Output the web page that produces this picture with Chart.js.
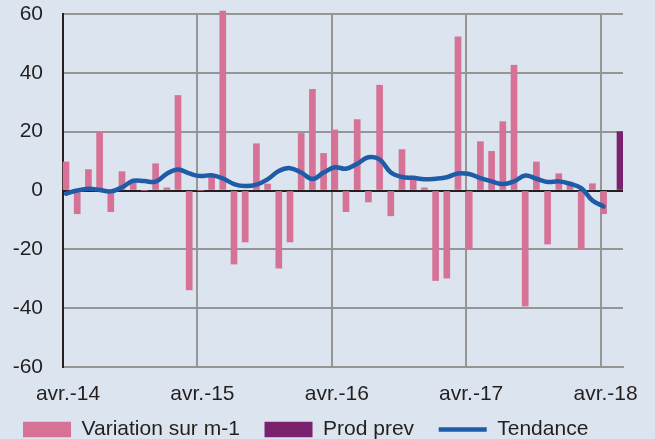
<!DOCTYPE html>
<html>
<head>
<meta charset="utf-8">
<script src="https://cdn.jsdelivr.net/npm/chart.js@4"></script>
<style>
  html, body { margin: 0; padding: 0; background: #dbe4ef; }
  #graphique { display: block; }
</style>
</head>
<body>
<canvas id="graphique" width="655" height="439"></canvas>
<script>
// mois 0 = avr.-14 ... mois 50 = juin-18
const etiquettesX = ["avr.-14", "avr.-15", "avr.-16", "avr.-17", "avr.-18"];

const variation = [
  9.7, -7.9, 7.1, 20.0, -7.2, 6.4, 3.0, 0, 9.1, 0.9, 32.3, -33.8,
  0, 4.6, 61, -25.0, -17.5, 15.9, 2.2, -26.4, -17.5, 19.4, 34.4, 12.6,
  20.6, -7.2, 24.1, -3.9, 35.8, -8.6, 13.9, 4.0, 0.9, -30.6, -29.8, 52.2,
  -19.7, 16.6, 13.3, 23.4, 42.6, -39.3, 9.7, -18.2, 5.7, 2.3, -19.7, 2.3,
  -7.9
];

const moisProdPrev = [50];
const prodPrev = [20];

const tendance = [
  -1.1, 0.0, 0.6, 0.2, -0.3, 1.1, 3.3, 3.2, 3.0, 5.7, 7.1, 5.8,
  4.9, 5.2, 4.1, 2.2, 1.5, 2.0, 3.8, 6.6, 7.6, 6.1, 3.9, 6.1,
  7.9, 7.4, 9.1, 11.3, 10.6, 6.1, 4.6, 4.3, 3.8, 4.0, 4.5, 5.8,
  5.6, 4.2, 3.1, 2.2, 3.1, 5.1, 4.0, 2.9, 3.1, 2.3, 0.8, -3.4,
  -5.4
];

const police = { family: "'Liberation Sans', Arial, sans-serif", size: 21 };
const gris = "#969696";
const noir = "#231f20";
// decalage des series (comme les colonnes groupees d'Excel), en mois
const decal = 0.268;

new Chart(document.getElementById("graphique"), {
  type: "bar",
  data: {
    datasets: [
      {
        label: "Variation sur m-1",
        data: variation.map((v, i) => ({ x: i, y: v })),
        xAxisID: "xDroite",
        backgroundColor: "#d67296",
        barThickness: 6,
        grouped: false,
        pointStyle: "rect",
        clip: false,
        order: 2
      },
      {
        label: "Prod prev",
        data: prodPrev.map((v, i) => ({ x: moisProdPrev[i], y: v })),
        xAxisID: "xGauche",
        backgroundColor: "#7b226f",
        barThickness: 6,
        grouped: false,
        pointStyle: "rect",
        order: 1
      },
      {
        type: "line",
        label: "Tendance",
        data: tendance.map((v, i) => ({ x: i, y: v })),
        xAxisID: "xDroite",
        borderColor: "#1f5ca8",
        backgroundColor: "#1f5ca8",
        borderWidth: 4.5,
        borderCapStyle: "round",
        pointRadius: 0,
        pointStyle: "line",
        tension: 0.4,
        order: 0
      }
    ]
  },
  options: {
    responsive: false,
    animation: false,
    layout: { padding: { top: 14, right: 32, left: 0, bottom: -11 } },
    plugins: {
      tooltip: { enabled: false },
      legend: {
        position: "bottom",
        labels: {
          usePointStyle: true,
          pointStyleWidth: 48,
          boxHeight: 15.6,
          padding: 13,
          color: noir,
          font: police,
          sort: (a, b) => a.datasetIndex - b.datasetIndex,
          generateLabels: chart => {
            const items = Chart.defaults.plugins.legend.labels.generateLabels(chart);
            items.forEach(it => { it.text = it.text + "  "; });
            return items;
          }
        }
      }
    },
    scales: {
      x: {
        type: "linear",
        min: 0,
        max: 50,
        offset: false,
        grid: {
          offset: false,
          color: ctx => ctx.tick && ctx.tick.value === 0 ? noir : gris,
          lineWidth: 2,
          drawTicks: false
        },
        border: { color: gris, width: 2 },
        ticks: {
          stepSize: 12,
          includeBounds: false,
          padding: 15,
          labelOffset: 5,
          color: noir,
          font: police,
          maxRotation: 0,
          autoSkip: false,
          callback: v => etiquettesX[v / 12]
        },
        afterFit: s => { s.height = 39; }
      },
      xDroite: {
        type: "linear",
        display: false,
        offset: false,
        min: -decal,
        max: 50 - decal
      },
      xGauche: {
        type: "linear",
        display: false,
        offset: false,
        min: decal,
        max: 50 + decal
      },
      y: {
        min: -60,
        max: 60,
        grid: {
          color: ctx => ctx.tick && ctx.tick.value === 0 ? noir : gris,
          lineWidth: 2,
          drawTicks: false
        },
        border: { color: noir, width: 2 },
        ticks: {
          stepSize: 20,
          padding: 20,
          color: noir,
          font: police
        },
        afterFit: s => { s.width = 63; s.paddingTop = 0; s.paddingBottom = 0; }
      }
    }
  }
});
</script>
</body>
</html>
